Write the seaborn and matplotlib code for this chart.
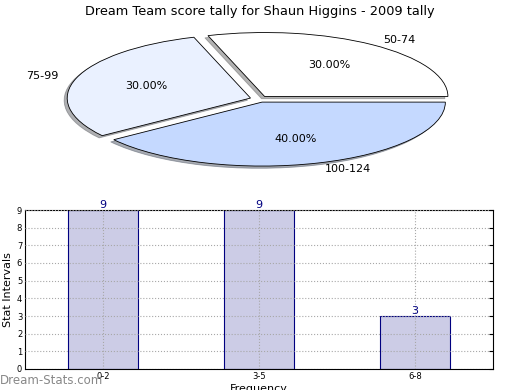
import matplotlib
matplotlib.use("Agg")
import matplotlib.pyplot as plt
import seaborn as sns
import pandas as pd

pie_labels = ["50-74", "75-99", "100-124"]
pie_shares = [30, 30, 40]
pie_colors = ["#ffffff", "#eaf1ff", "#c5d9ff"]

bar_cats = ["0-2", "3-5", "6-8"]
bar_counts = [9, 9, 3]

sns.set_style("white")
plt.rcParams["font.family"] = ["DejaVu Sans"]
plt.rcParams["text.color"] = "black"
plt.rcParams["axes.labelcolor"] = "black"
plt.rcParams["xtick.color"] = "black"
plt.rcParams["ytick.color"] = "black"

fig = plt.figure(figsize=(5.2, 3.9), dpi=100)

# pie on top, stretched into an ellipse
ax_pie = fig.add_axes([0.146, 0.582, 0.705, 0.328])
wedges, texts, autotexts = ax_pie.pie(
    pie_shares, labels=pie_labels, colors=pie_colors, explode=[0.05, 0.05, 0.05],
    autopct="%1.2f%%", shadow=dict(ox=-0.012, oy=-0.025, shade=0.6),
    startangle=0, counterclock=True,
    wedgeprops=dict(edgecolor="black", linewidth=0.6),
    textprops=dict(fontsize=8),
)
ax_pie.set_aspect("auto")
ax_pie.set_xlim(-1, 1)
ax_pie.set_ylim(-1, 1)
ax_pie.axis("off")

fig.text(0.5, 1 - 11 / 390, "Dream Team score tally for Shaun Higgins - 2009 tally",
         ha="center", va="center", fontsize=9.3)

# bar chart below
ax = fig.add_axes([25 / 520, 21 / 390, 468 / 520, 159 / 390])
df = pd.DataFrame({"cat": bar_cats, "count": bar_counts})
sns.barplot(data=df, x="cat", y="count", color="#ccccE6", edgecolor="#000080",
            linewidth=0.8, width=0.45, saturation=1, ax=ax)
ax.set_xlim(-0.5, 2.5)
ax.set_ylim(0, 9)
ax.set_yticks(range(10))
ax.tick_params(labelsize=6, direction="in", length=3, right=True, top=False, pad=2)
ax.grid(True, linestyle=":", color="#a8a8a8", linewidth=0.8)
ax.set_axisbelow(False)
for p in ax.patches:
    p.set_zorder(1)
for spine in ax.spines.values():
    spine.set_color("black")
    spine.set_linewidth(0.8)
for i, v in enumerate(bar_counts):
    ax.text(i, v, str(v), ha="center", va="bottom", fontsize=8, color="#000080")
ax.set_ylabel("Stat Intervals", fontsize=8, labelpad=3)
ax.set_xlabel("Frequency", fontsize=8, labelpad=2)

fig.text(0.0, 10 / 390, "Dream-Stats.com", ha="left", va="center", fontsize=8.5,
         color="#888888")

fig.savefig("out.png", dpi=100)
